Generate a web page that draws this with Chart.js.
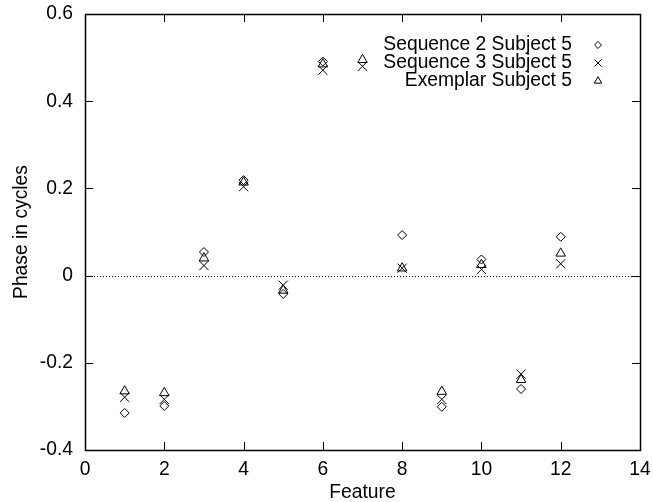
<!DOCTYPE html>
<html>
<head>
<meta charset="utf-8">
<script src="https://cdn.jsdelivr.net/npm/chart.js@4/dist/chart.umd.min.js"></script>
<style>
  html, body { margin: 0; padding: 0; background: #fff; }
  #wrap { width: 653px; height: 502px; }
</style>
</head>
<body>
<div id="wrap"><canvas id="phaseChart" width="653" height="502"></canvas></div>
<script>
// values
const features = [1, 2, 3, 4, 5, 6, 7, 8, 9, 10, 11, 12];
const seq2 = [-0.315, -0.299, 0.054, 0.219, -0.042, 0.491, null, 0.093, -0.301, 0.037, -0.260, 0.089];
const seq3 = [-0.279, -0.284, 0.023, 0.204, -0.022, 0.471, 0.480, 0.017, -0.284, 0.014, -0.226, 0.027];
const exemplar = [-0.265, -0.269, 0.040, 0.214, -0.034, 0.485, 0.495, 0.017, -0.266, 0.025, -0.239, 0.051];
const seriesNames = ["Sequence 2 Subject 5", "Sequence 3 Subject 5", "Exemplar Subject 5"];
const xTicks = [0, 2, 4, 6, 8, 10, 12, 14];
const yTicks = [-0.4, -0.2, 0, 0.2, 0.4, 0.6];

const FONT = "'Liberation Sans', Arial, sans-serif";
const FSIZE = 19.3;

function toPoints(vals) {
    return features.map((f, i) => ({ x: f, y: vals[i] })).filter(p => p.y !== null);
}

function fmtY(v) {
    const r = Math.round(v * 10) / 10;
    return r === 0 ? "0" : r.toFixed(1);
}

// box, inward ticks, zero line, legend
const gnuplotLook = {
    id: "gnuplotLook",
    beforeDatasetsDraw(chart) {
        const { ctx, chartArea: a, scales } = chart;
        const y0 = scales.y.getPixelForValue(0);
        ctx.save();
        ctx.strokeStyle = "#000";
        ctx.lineWidth = 1;
        ctx.setLineDash([1, 2]);
        ctx.beginPath();
        ctx.moveTo(a.left, Math.round(y0) + 0.5);
        ctx.lineTo(a.right, Math.round(y0) + 0.5);
        ctx.stroke();
        ctx.restore();
    },
    afterDraw(chart) {
        const { ctx, chartArea: a, scales } = chart;
        const len = 8;
        ctx.save();
        ctx.strokeStyle = "#000";
        ctx.lineWidth = 1;
        ctx.beginPath();
        xTicks.forEach(v => {
            const px = Math.round(scales.x.getPixelForValue(v)) + 0.5;
            ctx.moveTo(px, a.bottom); ctx.lineTo(px, a.bottom - len);
            ctx.moveTo(px, a.top); ctx.lineTo(px, a.top + len);
        });
        yTicks.forEach(v => {
            const py = Math.round(scales.y.getPixelForValue(v)) + 0.5;
            ctx.moveTo(a.left, py); ctx.lineTo(a.left + len, py);
            ctx.moveTo(a.right, py); ctx.lineTo(a.right - len, py);
        });
        ctx.stroke();
        ctx.lineWidth = 1.5;
        ctx.strokeRect(Math.round(a.left) + 0.5, Math.round(a.top) + 0.5,
            Math.round(a.right - a.left), Math.round(a.bottom - a.top));

        // legend, text right-aligned with a smaller marker to its right
        ctx.lineWidth = 1;
        ctx.font = FSIZE + "px " + FONT;
        ctx.textAlign = "right";
        ctx.textBaseline = "middle";
        chart.data.datasets.forEach((ds, i) => {
            const ly = 45 + i * 18;
            ctx.fillStyle = "#000";
            ctx.fillText(ds.label, 572, ly);
            ctx.fillStyle = "rgba(0,0,0,0)";
            Chart.helpers.drawPoint(ctx, {
                pointStyle: ds.pointStyle,
                radius: ds.pointRadius * 0.78,
                borderWidth: 1
            }, 598, ly);
        });
        ctx.restore();
    }
};

new Chart(document.getElementById("phaseChart"), {
    type: "scatter",
    data: {
        datasets: [
            { label: seriesNames[0], data: toPoints(seq2), pointStyle: "rectRot", pointRadius: 4.5 },
            { label: seriesNames[1], data: toPoints(seq3), pointStyle: "crossRot", pointRadius: 6.5 },
            { label: seriesNames[2], data: toPoints(exemplar), pointStyle: "triangle", pointRadius: 5.5 }
        ].map(d => Object.assign(d, {
            borderColor: "#000",
            backgroundColor: "rgba(0,0,0,0)",
            borderWidth: 1,
            pointHoverRadius: d.pointRadius
        }))
    },
    options: {
        responsive: false,
        animation: false,
        events: [],
        layout: { padding: { top: 14, right: 13, left: 0, bottom: 0 } },
        plugins: {
            legend: { display: false },
            tooltip: { enabled: false }
        },
        scales: {
            x: {
                type: "linear",
                min: 0,
                max: 14,
                afterBuildTicks: s => { s.ticks = xTicks.map(v => ({ value: v })); },
                afterFit: s => { s.height = 52; s.paddingLeft = 0; s.paddingRight = 0; },
                grid: { display: false, drawTicks: false },
                border: { display: false },
                ticks: { color: "#000", padding: 8, maxRotation: 0, font: { family: FONT, size: FSIZE } },
                title: {
                    display: true, text: "Feature", color: "#000",
                    padding: { top: 0, bottom: -2 },
                    font: { family: FONT, size: FSIZE }
                }
            },
            y: {
                type: "linear",
                min: -0.4,
                max: 0.6,
                afterBuildTicks: s => { s.ticks = yTicks.map(v => ({ value: v })); },
                afterFit: s => { s.width = 85; s.paddingTop = 0; s.paddingBottom = 0; },
                grid: { display: false, drawTicks: false },
                border: { display: false },
                ticks: { color: "#000", padding: 12, callback: v => fmtY(v), font: { family: FONT, size: FSIZE } },
                title: {
                    display: true, text: "Phase in cycles", color: "#000",
                    padding: { top: 10, bottom: 0 },
                    font: { family: FONT, size: FSIZE }
                }
            }
        }
    },
    plugins: [gnuplotLook]
});
</script>
</body>
</html>
